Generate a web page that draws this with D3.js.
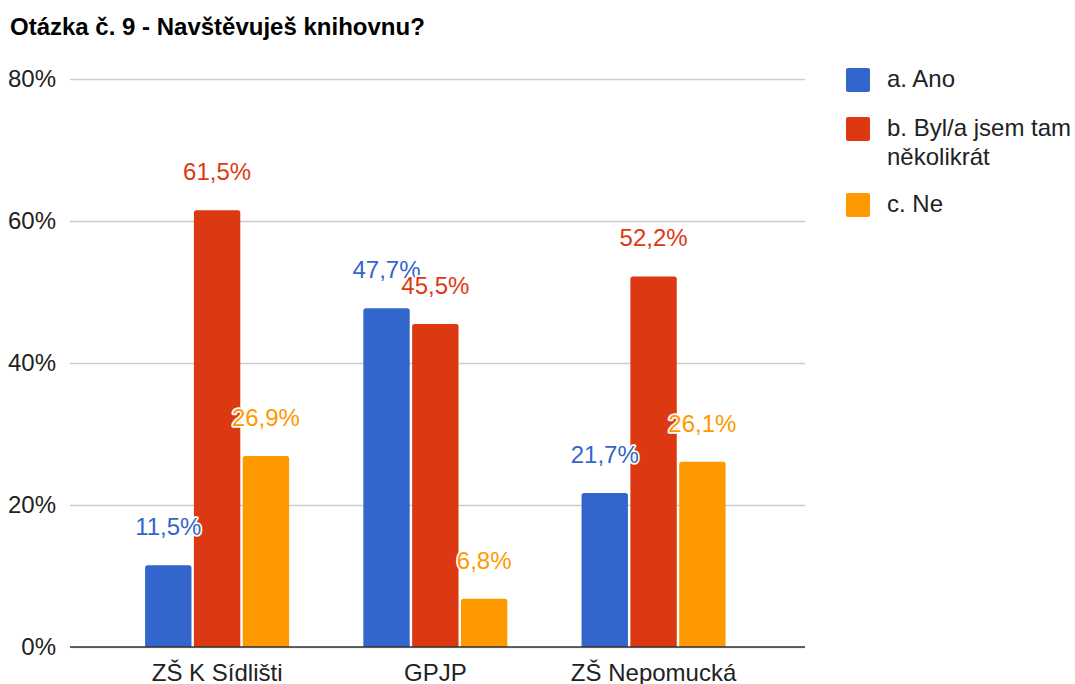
<!DOCTYPE html>
<html>
<head>
<meta charset="utf-8">
<script src="https://cdn.jsdelivr.net/npm/d3@7"></script>
<style>
  body { margin: 0; background: #fff; }
  svg text { font-family: "Liberation Sans", Arial, sans-serif; }
</style>
</head>
<body>
<svg class="chart"></svg>
<script>
var title = "Otázka č. 9 - Navštěvuješ knihovnu?";
var schools = ["ZŠ K Sídlišti", "GPJP", "ZŠ Nepomucká"];
var seriesNames = ["a. Ano", "b. Byl/a jsem tam několikrát", "c. Ne"];
var seriesLegendLines = [["a. Ano"], ["b. Byl/a jsem tam", "několikrát"], ["c. Ne"]];
var ano = [11.5, 47.7, 21.7];
var bylJsem = [61.5, 45.5, 52.2];
var ne = [26.9, 6.8, 26.1];
var yTicks = [0, 20, 40, 60, 80];
var colors = ["#3366cc", "#dc3912", "#ff9900"];

function show() {
    'use strict';

    var W = 1075, H = 684;
    var margin = { top: 79, bottom: 37, left: 70, right: 270 },
        width = W - margin.left - margin.right,
        height = H - margin.top - margin.bottom;
    var fs = "24px";

    var svg = d3.select(".chart").attr("width", W).attr("height", H);

    svg.append("text")
        .attr("x", 10).attr("y", 35)
        .style("font-size", "24px").style("font-weight", "bold")
        .attr("fill", "#000")
        .text(title);

    var chart = svg.append("g")
        .attr("transform", "translate(" + margin.left + "," + margin.top + ")");

    // build rows from the series arrays
    var allSeries = [ano, bylJsem, ne];
    var rows = schools.map(function (s, i) {
        return { school: s, values: allSeries.map(function (arr, j) { return { key: j, value: arr[i] }; }) };
    });

    var x0 = d3.scaleBand().domain(schools).range([0, width])
        .paddingInner(0.34).paddingOuter(0.354).align(0.486);
    var x1 = d3.scaleBand().domain([0, 1, 2]).range([0, x0.bandwidth()]).paddingInner(0.05);
    var y = d3.scaleLinear().domain([0, 80]).range([height, 0]);

    // gridlines + y labels
    var yAxis = d3.axisLeft(y).tickValues(yTicks).tickSize(-width).tickPadding(14)
        .tickFormat(function (d) { return d + "%"; });
    var gy = chart.append("g").call(yAxis);
    gy.select(".domain").remove();
    gy.selectAll("line").attr("stroke", "#cccccc").attr("stroke-width", 1.5);
    gy.selectAll("text").style("font-size", fs).attr("fill", "#222");

    // top-rounded bar path
    function barPath(bx, by, bw, bh) {
        var r = Math.min(2.5, bh);
        return "M" + bx + "," + (by + bh) +
            "V" + (by + r) +
            "Q" + bx + "," + by + " " + (bx + r) + "," + by +
            "H" + (bx + bw - r) +
            "Q" + (bx + bw) + "," + by + " " + (bx + bw) + "," + (by + r) +
            "V" + (by + bh) + "Z";
    }

    var groups = chart.selectAll(".grp").data(rows).enter().append("g")
        .attr("class", "grp")
        .attr("transform", function (d) { return "translate(" + x0(d.school) + ",0)"; });

    groups.selectAll("path").data(function (d) { return d.values; }).enter().append("path")
        .attr("d", function (d) { return barPath(x1(d.key), y(d.value), x1.bandwidth(), height - y(d.value)); })
        .attr("fill", function (d) { return colors[d.key]; });

    // baseline
    chart.append("line")
        .attr("x1", 0).attr("x2", width)
        .attr("y1", y(0)).attr("y2", y(0))
        .attr("stroke", "#333").attr("stroke-width", 1.5);

    // value labels with white halo
    groups.selectAll(".lbl").data(function (d) { return d.values; }).enter().append("text")
        .attr("class", "lbl")
        .attr("x", function (d) { return x1(d.key) + x1.bandwidth() / 2; })
        .attr("y", function (d) { return y(d.value) - 30; })
        .attr("text-anchor", "middle")
        .style("font-size", fs)
        .attr("fill", function (d) { return colors[d.key]; })
        .attr("stroke", "#fff").attr("stroke-width", 3.5)
        .attr("paint-order", "stroke")
        .attr("stroke-linejoin", "round")
        .text(function (d) { return d.value.toFixed(1).replace(".", ",") + "%"; });

    // category axis
    var gx = chart.append("g")
        .attr("transform", "translate(0," + height + ")")
        .call(d3.axisBottom(x0).tickSize(0).tickPadding(17));
    gx.select(".domain").remove();
    gx.selectAll("text").style("font-size", fs).attr("fill", "#222");

    // legend
    var legendTop = [68, 117, 193];
    var legend = svg.append("g");
    seriesNames.forEach(function (name, i) {
        legend.append("rect")
            .attr("x", 846).attr("y", legendTop[i])
            .attr("width", 24).attr("height", 24).attr("rx", 2)
            .attr("fill", colors[i]);
        var t = legend.append("text")
            .attr("x", 887).attr("y", legendTop[i] + 19)
            .style("font-size", fs).attr("fill", "#222");
        seriesLegendLines[i].forEach(function (line, k) {
            t.append("tspan").attr("x", 887).attr("dy", k === 0 ? 0 : 29).text(line);
        });
    });
}
show();
</script>
</body>
</html>
